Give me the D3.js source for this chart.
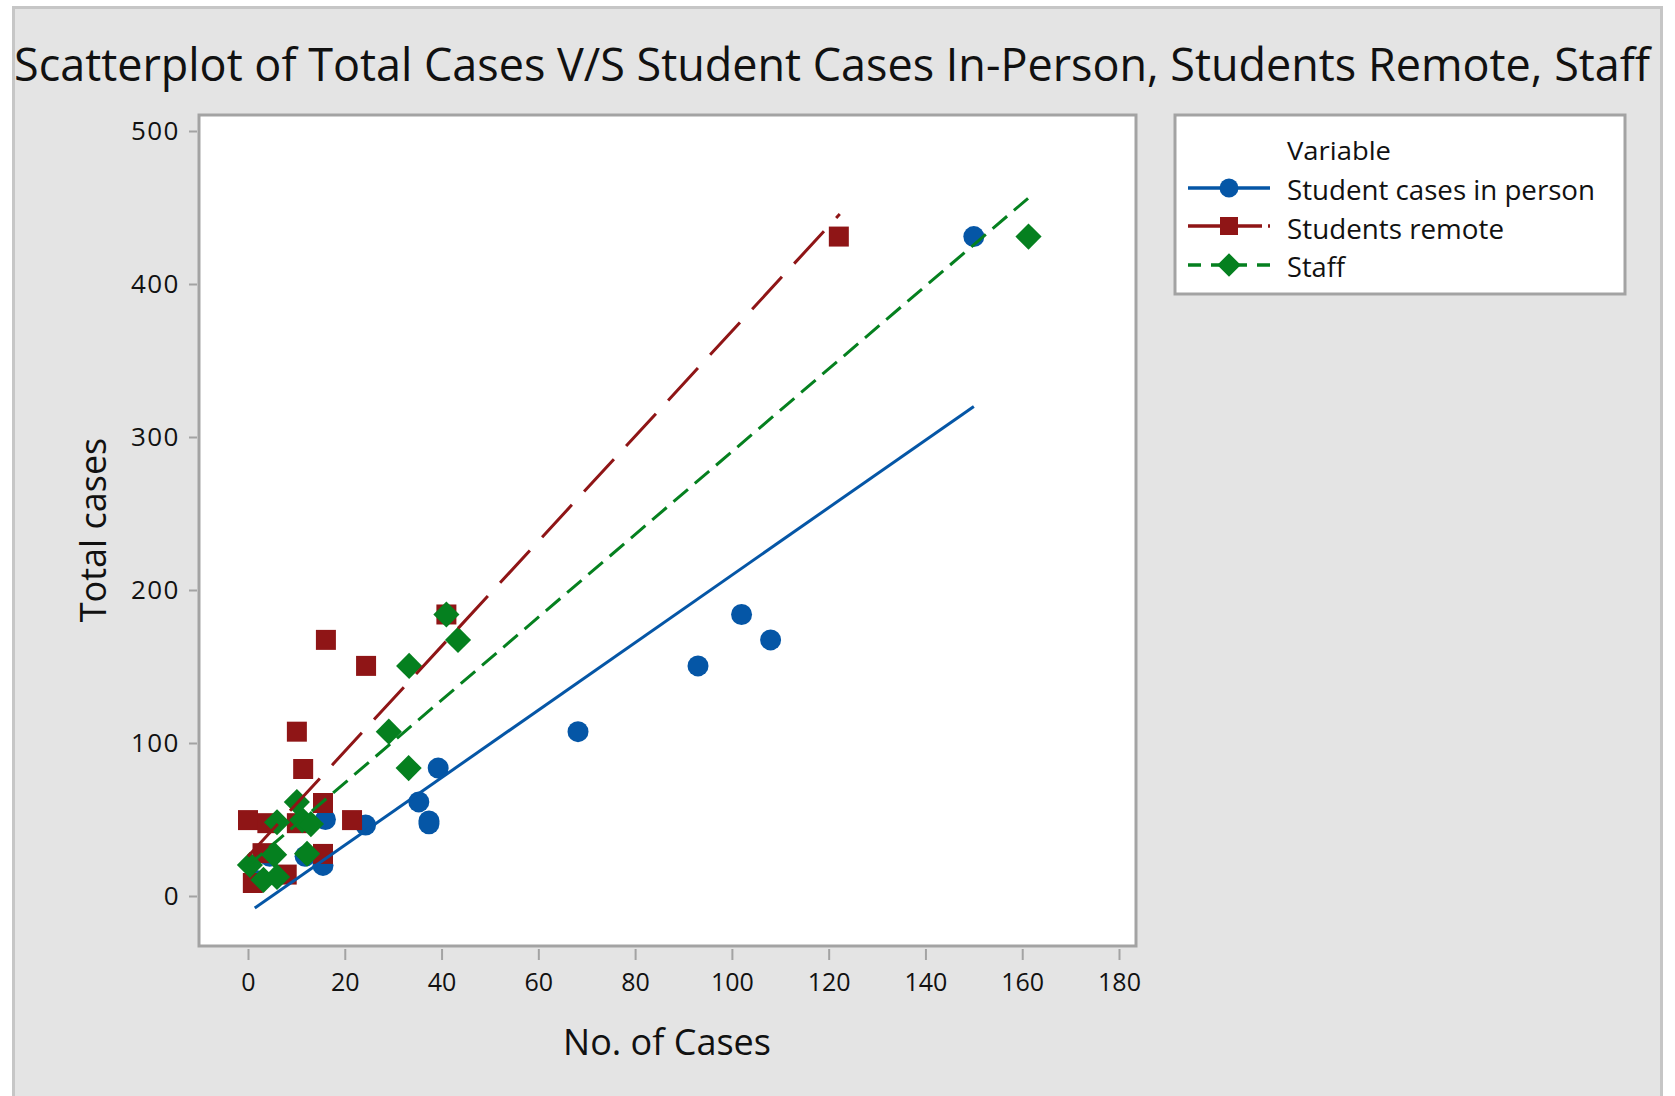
<!DOCTYPE html>
<html>
<head>
<meta charset="utf-8">
<script src="https://cdn.jsdelivr.net/npm/d3@7"></script>
<style>
  html, body { margin: 0; padding: 0; background: #ffffff; }
  svg { display: block; }
  text { font-family: "Open Sans", "Noto Sans", sans-serif; fill: #111; }
</style>
</head>
<body>
<svg id="chart" width="1675" height="1096"></svg>
<script>
// ---------- data ----------
const xTicks = [0, 20, 40, 60, 80, 100, 120, 140, 160, 180];
const yTicks = [0, 100, 200, 300, 400, 500];

const seriesNames = ["Student cases in person", "Students remote", "Staff"];

const inPersonCases  = [150, 102, 108, 93, 68.2, 39.3, 35.3, 37.4, 37.4, 16, 24.3, 4.5, 11.8, 15.5, 2];
const inPersonTotals = [431, 184, 167.4, 150.4, 107.4, 83.6, 61.5, 49, 47.2, 50, 46.4, 26, 26, 20, 10];

const remoteCases  = [122.1, 41, 16.1, 24.4, 10.1, 11.4, 15.5, 0, 21.5, 4, 10.1, 3, 15.5, 8, 1];
const remoteTotals = [431, 184, 167.4, 150.4, 107.4, 83, 60.8, 49.6, 49.6, 47.6, 47.6, 28, 27.5, 14, 8.5];

const staffCases  = [161.3, 41, 43.4, 33.3, 29.1, 33.2, 10.1, 6, 11.2, 13, 12.2, 5.4, 0.4, 3.2, 6];
const staffTotals = [431, 184, 167.4, 150.4, 107.4, 83.6, 61.4, 48.2, 49.6, 47, 27.6, 27, 20.3, 10.5, 12.5];

// fitted lines: [x, y] at each end
const inPersonFit = [[1.4, -7.8], [150, 320]];
const remoteFit   = [[0, 25.9], [122.3, 445.7]];
const staffFit    = [[0, 19.8], [161.2, 456]];

// ---------- drawing ----------
const svg = d3.select("#chart");
const W = 1675, H = 1096;
const frame = {left: 199, top: 115, right: 1136, bottom: 946};

const colors = {blue: "#0556a6", red: "#8f1516", green: "#05801f"};

svg.append("rect").attr("x", 0).attr("y", 0).attr("width", W).attr("height", H).attr("fill", "#ffffff");
svg.append("rect").attr("x", 13.5).attr("y", 7.5).attr("width", 1648).attr("height", 1100)
  .attr("fill", "#e4e4e4").attr("stroke", "#c6c6c6").attr("stroke-width", 3);

const x = d3.scaleLinear().domain([0, 180]).range([248, 1119]);
const y = d3.scaleLinear().domain([0, 500]).range([896, 131]);

// title
svg.append("text")
  .attr("x", 14).attr("y", 81)
  .attr("textLength", 1636).attr("lengthAdjust", "spacingAndGlyphs")
  .style("font-size", "45px")
  .text("Scatterplot of Total Cases V/S Student Cases In-Person, Students Remote, Staff");

// plot area
svg.append("rect")
  .attr("x", frame.left).attr("y", frame.top)
  .attr("width", frame.right - frame.left).attr("height", frame.bottom - frame.top)
  .attr("fill", "#ffffff").attr("stroke", "#a3a3a3").attr("stroke-width", 3);

// axes
const xAxis = svg.append("g")
  .attr("transform", `translate(0,${frame.bottom + 3})`)
  .call(d3.axisBottom(x).tickValues(xTicks).tickSize(11).tickPadding(13).tickFormat(d3.format("d")));
const yAxis = svg.append("g")
  .attr("transform", `translate(${frame.left - 2},0)`)
  .call(d3.axisLeft(y).tickValues(yTicks).tickSize(8).tickPadding(9).tickFormat(d3.format("d")));
[xAxis, yAxis].forEach(g => {
  g.select(".domain").remove();
  g.selectAll(".tick line").attr("stroke", "#a3a3a3").attr("stroke-width", 2);
  g.selectAll(".tick text").attr("fill", "#111").style("font-size", "25px")
    .style("font-family", "'Open Sans', sans-serif");
});
yAxis.selectAll(".tick text").style("font-size", "26px").style("letter-spacing", "1.5px");

// axis titles
svg.append("text").attr("x", 667).attr("y", 1055).attr("text-anchor", "middle")
  .style("font-size", "36px").text("No. of Cases");
svg.append("text").attr("transform", "translate(106,530) rotate(-90)").attr("text-anchor", "middle")
  .style("font-size", "36px").text("Total cases");

// markers
const circleSym = d3.symbol().type(d3.symbolCircle).size(Math.PI * 10.5 * 10.5);
const squareSym = d3.symbol().type(d3.symbolSquare).size(20 * 20);
const diamondSym = d3.symbol().type(d3.symbolSquare).size(18.5 * 18.5);

const plot = svg.append("g");

function drawPoints(xs, ys, sym, color, rotate) {
  plot.append("g").selectAll("path")
    .data(xs.map((v, i) => [v, ys[i]]))
    .join("path")
    .attr("d", sym)
    .attr("fill", color)
    .attr("transform", d => `translate(${x(d[0])},${y(d[1])})` + (rotate ? " rotate(45)" : ""));
}
drawPoints(inPersonCases, inPersonTotals, circleSym, colors.blue, false);
drawPoints(remoteCases, remoteTotals, squareSym, colors.red, false);
drawPoints(staffCases, staffTotals, diamondSym, colors.green, true);

// fitted lines
const line = d3.line().x(d => x(d[0])).y(d => y(d[1]));
function drawFit(pts, color, dash) {
  plot.append("path").datum(pts).attr("d", line)
    .attr("fill", "none").attr("stroke", color).attr("stroke-width", 3)
    .attr("stroke-dasharray", dash);
}
drawFit(inPersonFit, colors.blue, null);
drawFit(remoteFit, colors.red, "44,18");
drawFit(staffFit, colors.green, "19,9");

// legend
const leg = svg.append("g");
leg.append("rect").attr("x", 1175).attr("y", 115).attr("width", 450).attr("height", 179)
  .attr("fill", "#ffffff").attr("stroke", "#a3a3a3").attr("stroke-width", 3);
leg.append("text").attr("x", 1287).attr("y", 160).style("font-size", "26px").attr("fill", "#222")
  .attr("textLength", 104).attr("lengthAdjust", "spacingAndGlyphs").text("Variable");

const legItems = [
  {name: seriesNames[0], w: 308, color: colors.blue, sym: circleSym, rot: false, dash: null, ly: 188, ty: 200},
  {name: seriesNames[1], w: 217, color: colors.red, sym: squareSym, rot: false, dash: "74,6", ly: 226, ty: 239},
  {name: seriesNames[2], w: 58, color: colors.green, sym: diamondSym, rot: true, dash: "13,10", ly: 265, ty: 277}
];
legItems.forEach(it => {
  leg.append("line").attr("x1", 1188).attr("x2", 1270).attr("y1", it.ly).attr("y2", it.ly)
    .attr("stroke", it.color).attr("stroke-width", 3.5).attr("stroke-dasharray", it.dash);
  leg.append("path").attr("d", it.sym).attr("fill", it.color)
    .attr("transform", `translate(1229,${it.ly})` + (it.rot ? " rotate(45)" : "") + " scale(0.9)");
  leg.append("text").attr("x", 1287).attr("y", it.ty).style("font-size", "27px")
    .attr("textLength", it.w).attr("lengthAdjust", "spacingAndGlyphs").text(it.name);
});
</script>
</body>
</html>
